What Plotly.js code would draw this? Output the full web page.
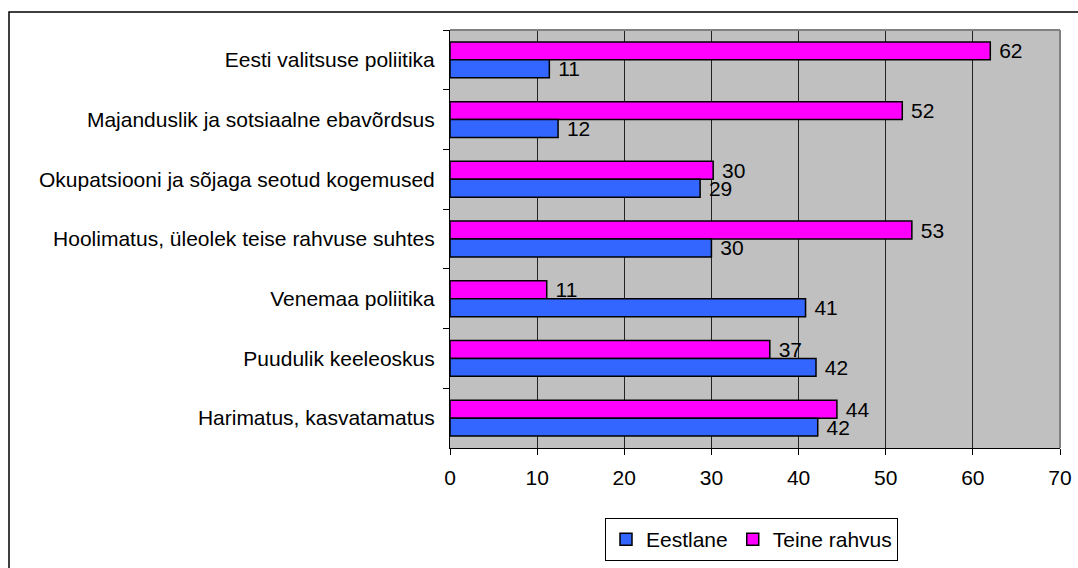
<!DOCTYPE html>
<html>
<head>
<meta charset="utf-8">
<script src="https://cdn.plot.ly/plotly-3.0.1.min.js"></script>
<style>
html, body { margin: 0; padding: 0; background: #ffffff; overflow: hidden; }
#chart { width: 1078px; height: 568px; }
</style>
</head>
<body>
<div id="chart"></div>
<script>
// Categories listed top to bottom as they appear in the chart
const categories = [
  "Eesti valitsuse poliitika",
  "Majanduslik ja sotsiaalne ebavõrdsus",
  "Okupatsiooni ja sõjaga seotud kogemused",
  "Hoolimatus, üleolek teise rahvuse suhtes",
  "Venemaa poliitika",
  "Puudulik keeleoskus",
  "Harimatus, kasvatamatus"
];
const eestlane = [11.4, 12.4, 28.7, 30.0, 40.8, 42.0, 42.2];
const teineRahvus = [62.0, 51.9, 30.2, 53.0, 11.1, 36.7, 44.4];
const seriesNames = ["Eestlane", "Teine rahvus"];
const xTicks = [0, 10, 20, 30, 40, 50, 60, 70];

const FONT = "Liberation Sans, Arial, sans-serif";
const FS = 21;

const traces = [
  {
    type: "bar", orientation: "h", name: seriesNames[1],
    y: categories, x: teineRahvus,
    marker: { color: "#FF00FF", line: { color: "#000000", width: 1.5 } },
    texttemplate: " %{x:.0f}", textposition: "outside", cliponaxis: false,
    constraintext: "none",
    textfont: { family: FONT, size: FS, color: "#000000" },
    hoverinfo: "x+name"
  },
  {
    type: "bar", orientation: "h", name: seriesNames[0],
    y: categories, x: eestlane,
    marker: { color: "#3366FF", line: { color: "#000000", width: 1.5 } },
    texttemplate: " %{x:.0f}", textposition: "outside", cliponaxis: false,
    constraintext: "none",
    textfont: { family: FONT, size: FS, color: "#000000" },
    hoverinfo: "x+name"
  }
];

// plot area in pixels: x 450..1060, y 30..448
const L = 450, R = 1060, T = 30, B = 448;
const px = v => (v - L) / (R - L);
const py = v => (B - v) / (B - T);

const layout = {
  width: 1078, height: 568,
  margin: { l: L, r: 1078 - R, t: T, b: 568 - B, pad: 0, autoexpand: false },
  paper_bgcolor: "#ffffff",
  plot_bgcolor: "#C0C0C0",
  font: { family: FONT, size: FS, color: "#000000" },
  barmode: "group",
  bargap: 0.40,
  bargroupgap: 0,
  showlegend: true,
  legend: {
    orientation: "h", traceorder: "reversed",
    x: px(898), xanchor: "right",
    y: py(561), yanchor: "bottom",
    bgcolor: "#ffffff", bordercolor: "#000000", borderwidth: 1,
    font: { family: FONT, size: FS, color: "#000000" },
    itemwidth: 30
  },
  xaxis: {
    range: [0, 70], autorange: false,
    tickvals: xTicks, ticktext: xTicks.map(String),
    showgrid: true, gridcolor: "#222222", gridwidth: 1,
    zeroline: false,
    showline: true, linecolor: "#000000", linewidth: 1,
    ticks: "outside", ticklen: 6, tickcolor: "#000000", tickwidth: 1,
    ticklabelstandoff: 5,
    tickfont: { family: FONT, size: FS, color: "#000000" },
    fixedrange: true
  },
  yaxis: {
    type: "category", autorange: "reversed",
    showgrid: false, zeroline: false,
    showline: true, linecolor: "#000000", linewidth: 1,
    ticks: "outside", ticklen: 6, tickcolor: "#000000", tickwidth: 1,
    tickson: "boundaries",
    ticklabelstandoff: 10,
    tickfont: { family: FONT, size: FS, color: "#000000" },
    fixedrange: true
  },
  annotations: [
    // bottom of the (cut-off) chart title peeking in at the top edge
    { text: "g", xref: "paper", yref: "paper", x: px(779), y: py(2),
      xanchor: "center", yanchor: "bottom", showarrow: false,
      font: { family: FONT, size: FS, color: "#000000" } }
  ],
  shapes: [
    // gray plot-area border (top and right)
    { type: "line", xref: "paper", yref: "paper", x0: 0, x1: 1, y0: 1, y1: 1,
      line: { color: "#808080", width: 2 }, layer: "above" },
    { type: "line", xref: "paper", yref: "paper", x0: 1, x1: 1, y0: 0, y1: 1,
      line: { color: "#808080", width: 2 }, layer: "above" },
    // outer chart frame (extends beyond the window on the right and bottom)
    { type: "rect", xref: "paper", yref: "paper",
      x0: px(9), x1: px(1200), y0: py(700), y1: py(12),
      line: { color: "#000000", width: 1.5 }, layer: "below" }
  ]
};

Plotly.newPlot("chart", traces, layout, { displayModeBar: false, staticPlot: true });
</script>
</body>
</html>
